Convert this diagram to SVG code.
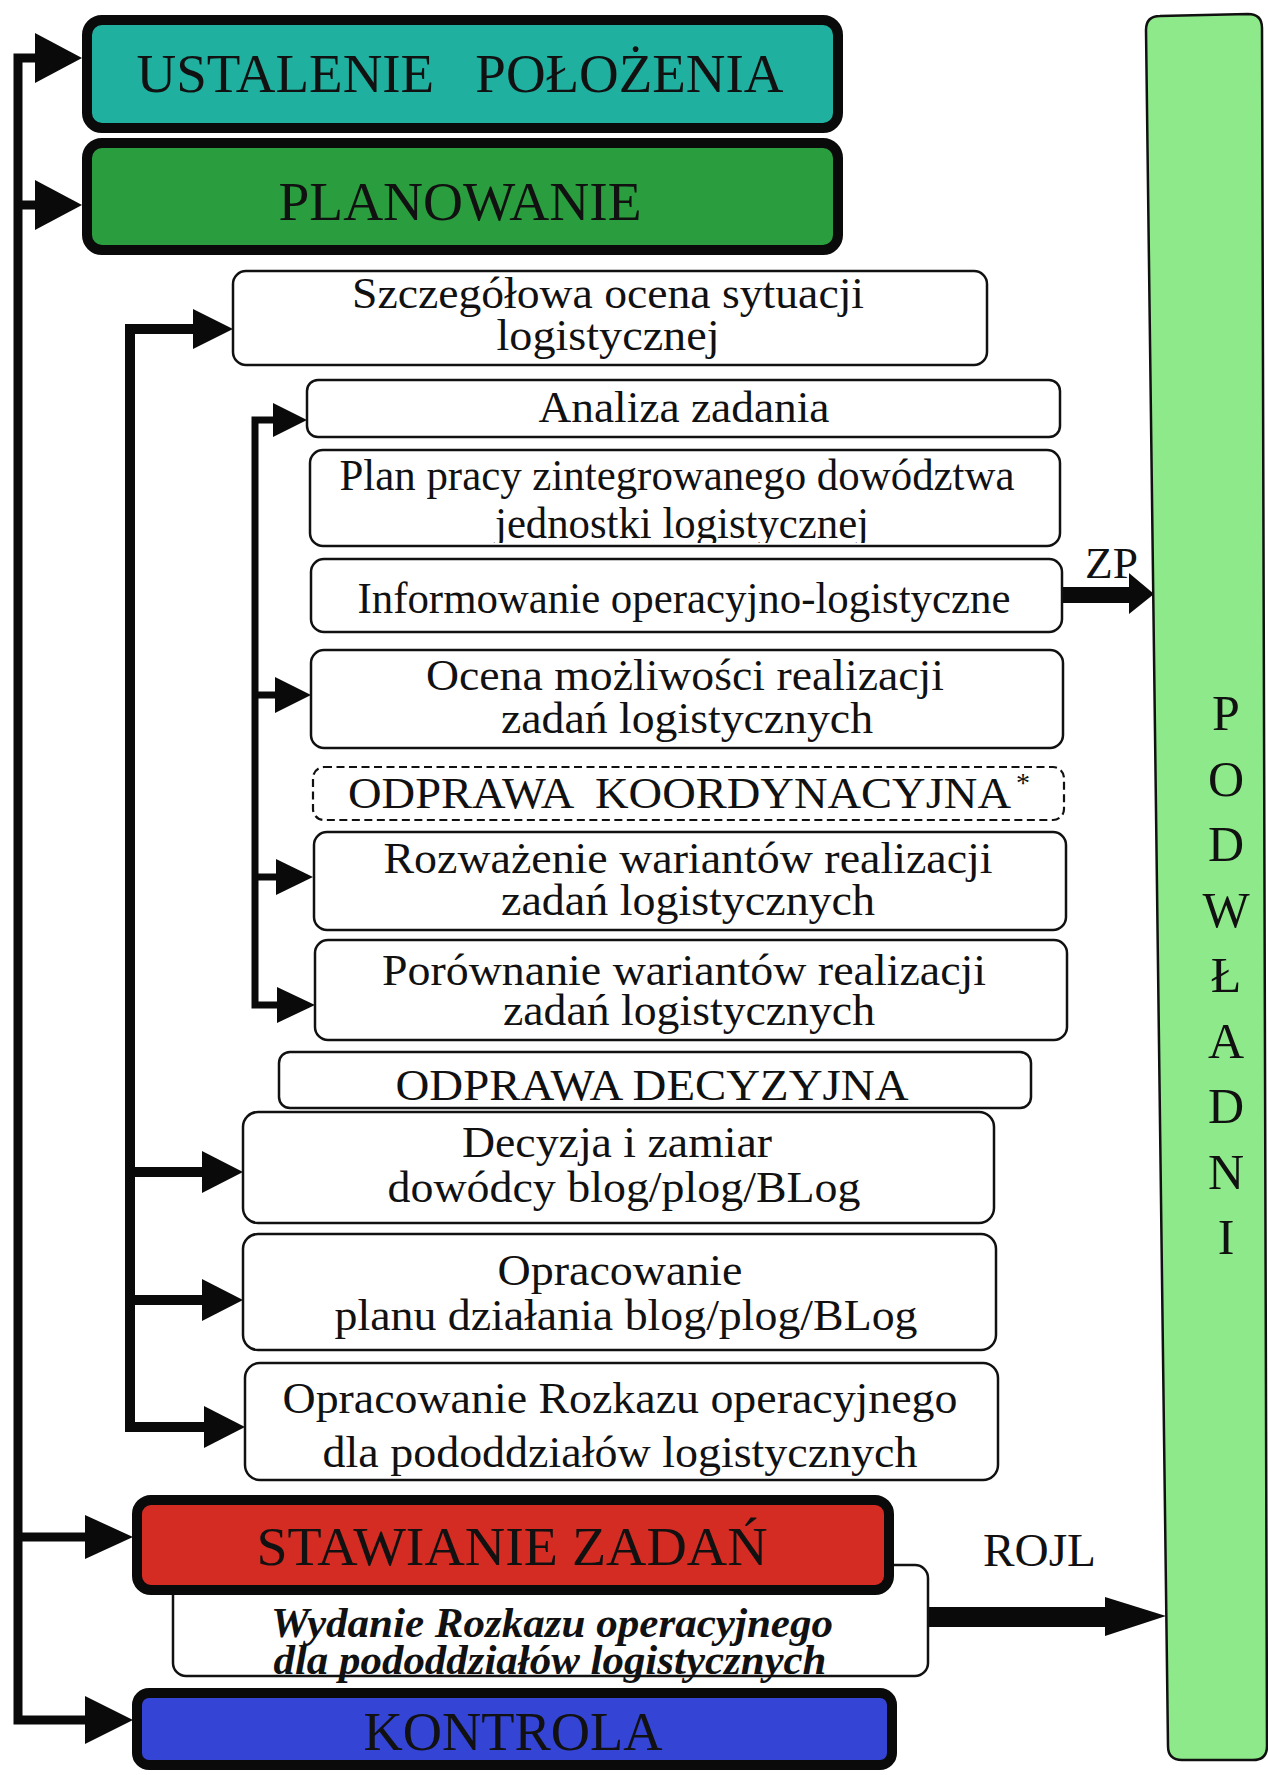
<svg xmlns="http://www.w3.org/2000/svg" width="1268" height="1775" viewBox="0 0 1268 1775">
<style>
text{font-family:"Liberation Serif","Times New Roman",serif;fill:#111;white-space:pre}
.t{font-size:44px;text-anchor:middle}
.big{font-size:54px;text-anchor:middle}
.wb{fill:#fff;stroke:#111;stroke-width:2.5}
.cb{stroke:#0a0a0a;stroke-width:10}
.ln{fill:none;stroke:#0a0a0a;stroke-linejoin:miter}
.ah{fill:#0a0a0a}
.bi{font-size:42px;font-weight:bold;font-style:italic;text-anchor:middle}
.pod{font-size:50px;text-anchor:middle}
</style>
<defs>
<clipPath id="clipPlan"><rect x="300" y="440" width="770" height="103"/></clipPath>
</defs>
<rect width="1268" height="1775" fill="#fff"/>

<g id="connectors">
<!-- main line -->
<path class="ln" stroke-width="9" d="M38,58 H18 V1720 H88 M18,205 H38 M18,1537 H88"/>
<polygon class="ah" points="35,33 82,58 35,83"/>
<polygon class="ah" points="35,180 82,205 35,230"/>
<polygon class="ah" points="85,1515 133,1537 85,1559"/>
<polygon class="ah" points="85,1696 133,1720 85,1744"/>
<!-- second level -->
<path class="ln" stroke-width="10" d="M196,329 H130 V1427 H206 M130,1172 H206 M130,1300 H206"/>
<polygon class="ah" points="193,309 233,329 193,349"/>
<polygon class="ah" points="202,1151 243,1172 202,1193"/>
<polygon class="ah" points="202,1279 243,1300 202,1321"/>
<polygon class="ah" points="204,1406 245,1427 204,1448"/>
<!-- third level -->
<path class="ln" stroke-width="7" d="M276,420 H255 V1005 H278 M255,695 H278 M255,877 H278"/>
<polygon class="ah" points="273,403 307,420 273,437"/>
<polygon class="ah" points="275,677 311,695 275,713"/>
<polygon class="ah" points="276,859 313,877 276,895"/>
<polygon class="ah" points="277,987 315,1005 277,1023"/>
<!-- ZP -->
<rect class="ah" x="1062" y="587" width="70" height="16"/>
<polygon class="ah" points="1129,573 1154,594 1129,614"/>
<!-- ROJL -->
<rect class="ah" x="927" y="1607" width="180" height="20"/>
<polygon class="ah" points="1105,1597 1166,1616 1105,1636"/>
</g>

<g id="podwladni">
<path d="M1160,16 L1248,14 Q1262,14 1262,28 L1267,1746 Q1267,1760 1253,1760 L1182,1760 Q1168,1760 1168,1746 L1146,30 Q1146,16 1160,16 Z" fill="#8ee98a" stroke="#111" stroke-width="2.5"/>
<text class="pod" x="1226" y="730">P</text>
<text class="pod" x="1226" y="795.5">O</text>
<text class="pod" x="1226" y="861">D</text>
<text class="pod" x="1226" y="926.5">W</text>
<text class="pod" x="1226" y="992">Ł</text>
<text class="pod" x="1226" y="1057.5">A</text>
<text class="pod" x="1226" y="1123">D</text>
<text class="pod" x="1226" y="1188.5">N</text>
<text class="pod" x="1226" y="1254">I</text>
</g>

<g id="ustalenie">
<rect class="cb" x="87" y="20" width="751" height="108" rx="15" fill="#1fb0a0"/>
<text class="big" x="460" y="92" textLength="647" lengthAdjust="spacingAndGlyphs">USTALENIE   POŁOŻENIA</text>
</g>
<g id="planowanie">
<rect class="cb" x="87" y="143" width="751" height="107" rx="15" fill="#2a9d3e"/>
<text class="big" x="460" y="220" textLength="363" lengthAdjust="spacingAndGlyphs">PLANOWANIE</text>
</g>

<g id="szczegolowa">
<rect class="wb" x="233" y="271" width="754" height="94" rx="13"/>
<text class="t" x="608" y="308" textLength="512" lengthAdjust="spacingAndGlyphs">Szczegółowa ocena sytuacji</text>
<text class="t" x="608" y="350" textLength="223" lengthAdjust="spacingAndGlyphs">logistycznej</text>
</g>
<g id="analiza">
<rect class="wb" x="307" y="380" width="753" height="57" rx="11"/>
<text class="t" x="684" y="422" textLength="291" lengthAdjust="spacingAndGlyphs">Analiza zadania</text>
</g>
<g id="planpracy">
<text class="t" x="677" y="490" textLength="675" lengthAdjust="spacingAndGlyphs">Plan pracy zintegrowanego dowództwa</text>
<text class="t" x="682" y="538" textLength="374" lengthAdjust="spacingAndGlyphs" clip-path="url(#clipPlan)">jednostki logistycznej</text>
<rect class="wb" x="310" y="450" width="750" height="96" rx="13" fill="none" style="fill:none"/>
</g>
<g id="informowanie">
<rect class="wb" x="311" y="559" width="751" height="73" rx="13"/>
<text class="t" x="684" y="613" textLength="653" lengthAdjust="spacingAndGlyphs">Informowanie operacyjno-logistyczne</text>
</g>
<g id="ocena">
<rect class="wb" x="311" y="650" width="752" height="98" rx="13"/>
<text class="t" x="685" y="690" textLength="518" lengthAdjust="spacingAndGlyphs">Ocena możliwości realizacji</text>
<text class="t" x="687" y="733" textLength="372" lengthAdjust="spacingAndGlyphs">zadań logistycznych</text>
</g>
<g id="odprawa-koordynacyjna">
<rect x="313" y="767" width="751" height="53" rx="11" fill="#fff" stroke="#111" stroke-width="2.2" stroke-dasharray="8 4.5"/>
<text x="348" y="808" font-size="44" textLength="663" lengthAdjust="spacingAndGlyphs">ODPRAWA  KOORDYNACYJNA</text>
<text x="1016" y="792" font-size="28">*</text>
</g>
<g id="rozwazenie">
<rect class="wb" x="314" y="832" width="752" height="98" rx="13"/>
<text class="t" x="688" y="873" textLength="609" lengthAdjust="spacingAndGlyphs">Rozważenie wariantów realizacji</text>
<text class="t" x="688" y="915" textLength="374" lengthAdjust="spacingAndGlyphs">zadań logistycznych</text>
</g>
<g id="porownanie">
<rect class="wb" x="315" y="940" width="752" height="100" rx="13"/>
<text class="t" x="684" y="985" textLength="604" lengthAdjust="spacingAndGlyphs">Porównanie wariantów realizacji</text>
<text class="t" x="689" y="1025" textLength="372" lengthAdjust="spacingAndGlyphs">zadań logistycznych</text>
</g>
<g id="odprawa-decyzyjna">
<rect class="wb" x="279" y="1052" width="752" height="56" rx="11"/>
<text class="t" x="652" y="1100" textLength="513" lengthAdjust="spacingAndGlyphs">ODPRAWA DECYZYJNA</text>
</g>
<g id="decyzja">
<rect class="wb" x="243" y="1112" width="751" height="111" rx="15"/>
<text class="t" x="617" y="1157" textLength="310" lengthAdjust="spacingAndGlyphs">Decyzja i zamiar</text>
<text class="t" x="624" y="1202" textLength="473" lengthAdjust="spacingAndGlyphs">dowódcy blog/plog/BLog</text>
</g>
<g id="opracowanie-planu">
<rect class="wb" x="243" y="1234" width="753" height="116" rx="15"/>
<text class="t" x="620" y="1285" textLength="245" lengthAdjust="spacingAndGlyphs">Opracowanie</text>
<text class="t" x="626" y="1330" textLength="583" lengthAdjust="spacingAndGlyphs">planu działania blog/plog/BLog</text>
</g>
<g id="opracowanie-rozkazu">
<rect class="wb" x="245" y="1363" width="753" height="117" rx="15"/>
<text class="t" x="620" y="1413" textLength="675" lengthAdjust="spacingAndGlyphs">Opracowanie Rozkazu operacyjnego</text>
<text class="t" x="620" y="1467" textLength="595" lengthAdjust="spacingAndGlyphs">dla pododdziałów logistycznych</text>
</g>
<g id="wydanie">
<rect class="wb" x="173" y="1565" width="755" height="111" rx="13"/>
<text class="bi" x="552" y="1637" textLength="562" lengthAdjust="spacingAndGlyphs">Wydanie Rozkazu operacyjnego</text>
<text class="bi" x="550" y="1674" textLength="553" lengthAdjust="spacingAndGlyphs">dla pododdziałów logistycznych</text>
</g>
<g id="stawianie">
<rect class="cb" x="137" y="1500" width="752" height="90" rx="14" fill="#d42c22"/>
<text class="big" x="512" y="1565" textLength="511" lengthAdjust="spacingAndGlyphs">STAWIANIE ZADAŃ</text>
</g>
<g id="kontrola">
<rect class="cb" x="137" y="1693" width="755" height="72" rx="12" fill="#3444d4"/>
<text class="big" x="513" y="1750" textLength="299" lengthAdjust="spacingAndGlyphs">KONTROLA</text>
</g>

<g id="labels">
<text x="1085" y="578" font-size="45" textLength="53" lengthAdjust="spacingAndGlyphs">ZP</text>
<text x="983" y="1566" font-size="46" textLength="113" lengthAdjust="spacingAndGlyphs">ROJL</text>
</g>
</svg>
